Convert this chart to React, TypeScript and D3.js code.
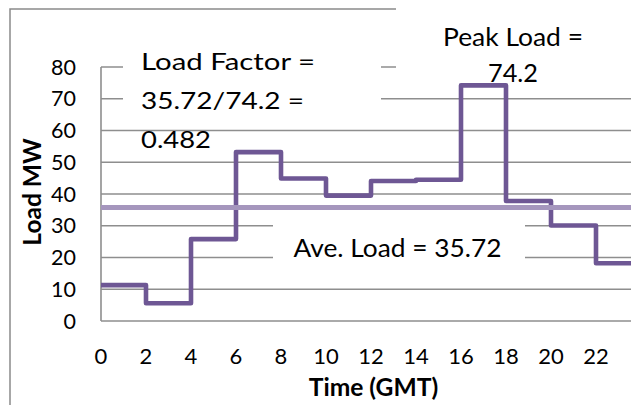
import React from "react";
import * as d3 from "d3";

const hours = [0, 2, 4, 6, 8, 10, 12, 14, 16, 18, 20, 22];
const loadMW = [11.3, 5.6, 25.8, 53.2, 44.9, 39.5, 44.1, 44.5, 74.2, 37.8, 30.1, 18.2];
const endHour = 24;
const aveLoad = 35.72;
const yTicks = [0, 10, 20, 30, 40, 50, 60, 70, 80];
const xTicks = [0, 2, 4, 6, 8, 10, 12, 14, 16, 18, 20, 22, 24];
const loadFactorLines = ["Load Factor =", "35.72/74.2 =", "0.482"];
const peakLines = ["Peak Load =", "74.2"];
const aveLabel = "Ave. Load = 35.72";
const yTitle = "Load MW";
const xTitle = "Time (GMT)";

const W = 631;
const H = 405;
const FONT = "Lato, 'Open Sans', sans-serif";

// measured text widths (px) of the annotation lines
const lfWidths = [174, 163, 70];
const peakWidths = [140, 50];
const aveWidth = 208;

export default function App() {
  const x = d3.scaleLinear().domain([0, 24]).range([101, 641]);
  const y = d3.scaleLinear().domain([0, 80]).range([321, 67]);

  const pts: [number, number][] = hours.map((h, i) => [h, loadMW[i]]);
  pts.push([endHour, loadMW[loadMW.length - 1]]);
  const stepPath = d3
    .line<[number, number]>()
    .x((d) => x(d[0]))
    .y((d) => y(d[1]))
    .curve(d3.curveStepAfter)(pts) as string;

  const avePath = d3
    .line<[number, number]>()
    .x((d) => x(d[0]))
    .y((d) => y(d[1]))([
    [0, aveLoad],
    [endHour, aveLoad],
  ]) as string;

  const gridColor = "#8e8e8e";

  return (
    <svg
      width={W}
      height={H}
      style={{ position: "absolute", left: 0, top: 0, background: "#fff" }}
      fontFamily={FONT}
    >
      <rect x={0} y={0} width={W} height={H} fill="#fff" />
      {/* outer chart border */}
      <path d={`M10,${H} L10,9 L700,9`} fill="none" stroke="#8a8a8a" strokeWidth={1.5} />

      {/* gridlines */}
      {yTicks.map((t) => (
        <line key={t} x1={x(0)} x2={W} y1={y(t)} y2={y(t)} stroke={gridColor} strokeWidth={1.6} />
      ))}
      {/* y axis line */}
      <line x1={x(0)} x2={x(0)} y1={y(80)} y2={y(0)} stroke={gridColor} strokeWidth={1.6} />

      {/* y tick labels */}
      {yTicks.map((t) => (
        <text key={t} x={76} y={y(t)} dy="0.36em" textAnchor="end" fontSize={21.5} fill="#000">
          {t}
        </text>
      ))}
      {/* x tick labels */}
      {xTicks
        .filter((t) => x(t) < W - 8)
        .map((t) => (
          <text key={t} x={x(t)} y={364} textAnchor="middle" fontSize={22} fill="#000">
            {t}
          </text>
        ))}

      {/* axis titles */}
      <text
        transform={`translate(41,192) rotate(-90)`}
        textAnchor="middle"
        fontSize={24.5}
        fontWeight="bold"
        fill="#000"
      >
        {yTitle}
      </text>
      <text x={373.5} y={396} textAnchor="middle" fontSize={24.6} fontWeight="bold" fill="#000">
        {xTitle}
      </text>

      {/* text boxes backgrounds */}
      <rect x={123} y={38} width={258} height={78} fill="#fff" />
      <rect x={396} y={0} width={W - 396} height={78} fill="#fff" />
      <rect x={273} y={213} width={252} height={62} fill="#fff" />

      {/* series */}
      <path d={stepPath} fill="none" stroke="#6E5794" strokeWidth={4.6} strokeLinejoin="round" />
      <path d={avePath} fill="none" stroke="#A596BD" strokeWidth={5} />

      {/* annotations */}
      {loadFactorLines.map((s, i) => (
        <text
          key={i}
          x={141}
          y={70 + i * 39}
          fontSize={23.5}
          fill="#000"
          textLength={lfWidths[i]}
          lengthAdjust="spacingAndGlyphs"
        >
          {s}
        </text>
      ))}
      {peakLines.map((s, i) => (
        <text
          key={i}
          x={513 - peakWidths[i] / 2}
          y={45.7 + i * 36}
          fontSize={24.3}
          fill="#000"
          textLength={peakWidths[i]}
          lengthAdjust="spacingAndGlyphs"
        >
          {s}
        </text>
      ))}
      <text
        x={293.5}
        y={256.7}
        fontSize={25.5}
        fill="#000"
        textLength={aveWidth}
        lengthAdjust="spacingAndGlyphs"
      >
        {aveLabel}
      </text>
    </svg>
  );
}
